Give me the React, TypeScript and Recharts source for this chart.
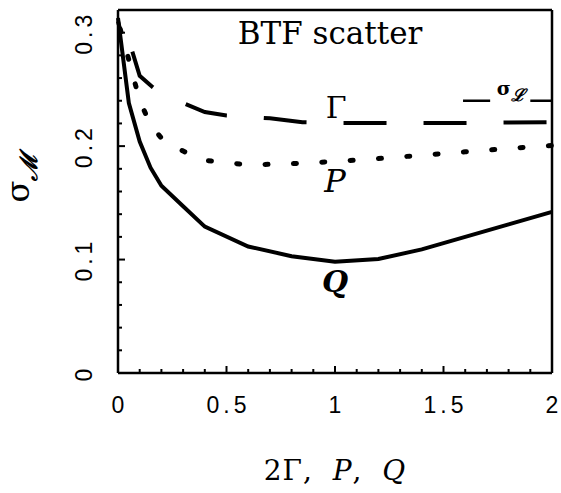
import { LineChart, Line, XAxis, YAxis, ReferenceLine, ReferenceDot } from "recharts";

// Q curve (solid)
const qX = [0, 0.05, 0.1, 0.15, 0.2, 0.3, 0.4, 0.6, 0.8, 1.0, 1.2, 1.4, 1.6, 1.8, 2.0];
const qY = [0.313, 0.238, 0.204, 0.181, 0.165, 0.147, 0.129, 0.1115, 0.103, 0.098, 0.1005, 0.109, 0.12, 0.131, 0.142];

// P curve (dotted)
const pX = [0, 0.05, 0.1, 0.15, 0.2, 0.3, 0.4, 0.6, 0.8, 1.0, 1.2, 1.4, 1.6, 1.8, 2.0];
const pY = [0.31, 0.276, 0.24, 0.219, 0.207, 0.1956, 0.1875, 0.1835, 0.1845, 0.1865, 0.189, 0.192, 0.195, 0.198, 0.2005];

// Gamma curve (long dashes)
const gX = [0, 0.045, 0.065, 0.1, 0.16, 0.2, 0.3, 0.4, 0.5, 0.7, 0.85, 1.0, 1.5, 2.0];
const gY = [0.31, 0.277, 0.284, 0.262, 0.252, 0.246, 0.238, 0.23, 0.227, 0.2245, 0.221, 0.2205, 0.2203, 0.2212];

// sigma_L level, drawn as two short pieces at the right edge
const sigmaL = 0.24;
const sigmaLPieces = [
  [1.59, 1.715],
  [1.9, 2.0],
];

const xTicks = [0, 0.1, 0.2, 0.3, 0.4, 0.5, 0.6, 0.7, 0.8, 0.9, 1, 1.1, 1.2, 1.3, 1.4, 1.5, 1.6, 1.7, 1.8, 1.9, 2];
const yTicks = [0, 0.02, 0.04, 0.06, 0.08, 0.1, 0.12, 0.14, 0.16, 0.18, 0.2, 0.22, 0.24, 0.26, 0.28, 0.3];

const toPoints = (xs: number[], ys: number[]) => xs.map((x, i) => ({ x, y: ys[i] }));
const qData = toPoints(qX, qY);
const pData = toPoints(pX, pY);
const gData = toPoints(gX, gY);

const onStep = (v: number, step: number) => Math.abs(v / step - Math.round(v / step)) < 1e-6;

const TICK_FONT = "'Liberation Sans', Arial, sans-serif";
const SERIF = "'DejaVu Serif', serif";
const MAJOR = 7;
const MINOR = 4;

function BottomTick(props: any) {
  const { x, y, payload } = props;
  const major = onStep(payload.value, 0.5);
  return (
    <g>
      <line x1={x} x2={x} y1={y} y2={y - (major ? MAJOR : MINOR)} stroke="#000" strokeWidth={2} />
      {major && (
        <text x={x + 2} y={y + 40} textAnchor="middle" fontFamily={TICK_FONT} fontSize={23} letterSpacing={4} fill="#000">
          {String(payload.value)}
        </text>
      )}
    </g>
  );
}

function TopTick(props: any) {
  const { x, y, payload } = props;
  const major = onStep(payload.value, 0.5);
  return <line x1={x} x2={x} y1={y} y2={y + (major ? MAJOR : MINOR)} stroke="#000" strokeWidth={2} />;
}

function LeftTick(props: any) {
  const { x, y, payload } = props;
  const major = onStep(payload.value, 0.1);
  const lx = x - 28;
  return (
    <g>
      <line x1={x} x2={x + (major ? MAJOR : MINOR)} y1={y} y2={y} stroke="#000" strokeWidth={2} />
      {major && (
        <text
          x={lx}
          y={y + 2}
          transform={`rotate(-90 ${lx} ${y})`}
          textAnchor="middle"
          fontFamily={TICK_FONT}
          fontSize={23}
          letterSpacing={4}
          fill="#000"
        >
          {String(payload.value)}
        </text>
      )}
    </g>
  );
}

function RightTick(props: any) {
  const { x, y, payload } = props;
  const major = onStep(payload.value, 0.1);
  return <line x1={x} x2={x - (major ? MAJOR : MINOR)} y1={y} y2={y} stroke="#000" strokeWidth={2} />;
}

function XTitle(props: any) {
  const { x, width, y } = props.viewBox;
  return (
    <text
      x={x + width / 2}
      y={y + 107}
      textAnchor="middle"
      fontFamily={SERIF}
      fontSize={28}
      letterSpacing={1}
      wordSpacing={10}
      fill="#000"
    >
      2Γ, <tspan fontStyle="italic">P</tspan>, <tspan fontStyle="italic">Q</tspan>
    </text>
  );
}

function YTitle(props: any) {
  const { y, height } = props.viewBox;
  const cx = 29;
  const cy = y + height / 2 - 14;
  return (
    <text x={cx} y={cy} transform={`rotate(-90 ${cx} ${cy})`} textAnchor="middle" fontFamily={SERIF} fill="#000">
      <tspan fontSize={32}>σ</tspan>
      <tspan fontSize={24} dy={8} fontStyle="italic" fontWeight="bold">ℳ</tspan>
    </text>
  );
}

// text placed at a data position
const note = (content: React.ReactNode, size: number, anchor: string = "middle", extra: any = {}) =>
  (p: any) => (
    <text x={p.cx} y={p.cy} textAnchor={anchor} fontFamily={SERIF} fontSize={size} fill="#000" {...extra}>
      {content}
    </text>
  );

export default function App() {
  return (
    <div style={{ position: "absolute", left: 0, top: 0, width: 561, height: 493, background: "#fff" }}>
      <LineChart width={561} height={493} margin={{ top: 0, right: 0, bottom: 0, left: 0 }}>
        <XAxis
          dataKey="x"
          type="number"
          domain={[0, 2]}
          ticks={xTicks}
          interval={0}
          height={120}
          tickSize={0}
          tickMargin={0}
          tick={<BottomTick />}
          axisLine={{ stroke: "#000", strokeWidth: 2.5 }}
          tickLine={false}
          label={{ content: <XTitle /> }}
        />
        <XAxis
          xAxisId="top"
          orientation="top"
          dataKey="x"
          type="number"
          domain={[0, 2]}
          ticks={xTicks}
          interval={0}
          height={10}
          tickSize={0}
          tickMargin={0}
          tick={<TopTick />}
          axisLine={{ stroke: "#000", strokeWidth: 2.5 }}
          tickLine={false}
        />
        <YAxis
          type="number"
          domain={[0, 0.32]}
          ticks={yTicks}
          interval={0}
          width={118}
          tickSize={0}
          tickMargin={0}
          tick={<LeftTick />}
          axisLine={{ stroke: "#000", strokeWidth: 2.5 }}
          tickLine={false}
          label={{ content: <YTitle /> }}
        />
        <YAxis
          yAxisId="right"
          orientation="right"
          type="number"
          domain={[0, 0.32]}
          ticks={yTicks}
          interval={0}
          width={9}
          tickSize={0}
          tickMargin={0}
          tick={<RightTick />}
          axisLine={{ stroke: "#000", strokeWidth: 2.5 }}
          tickLine={false}
        />

        <Line
          data={qData}
          dataKey="y"
          type="linear"
          stroke="#000"
          strokeWidth={4}
          dot={false}
          activeDot={false}
          isAnimationActive={false}
        />
        <Line
          data={pData}
          dataKey="y"
          type="linear"
          stroke="#000"
          strokeWidth={5}
          strokeDasharray="3 25.4"
          strokeDashoffset={20.4}
          strokeLinecap="round"
          dot={false}
          activeDot={false}
          isAnimationActive={false}
        />
        <Line
          data={gData}
          dataKey="y"
          type="linear"
          stroke="#000"
          strokeWidth={4}
          strokeDasharray="43 37"
          strokeDashoffset={31.5}
          dot={false}
          activeDot={false}
          isAnimationActive={false}
        />

        {sigmaLPieces.map(([a, b], i) => (
          <ReferenceLine
            key={i}
            segment={[
              { x: a, y: sigmaL },
              { x: b, y: sigmaL },
            ]}
            stroke="#000"
            strokeWidth={2.5}
          />
        ))}

        <ReferenceDot x={0.977} y={0.29} r={0} shape={note("BTF scatter", 31)} />
        <ReferenceDot x={1.005} y={0.2248} r={0} shape={note("Γ", 30)} />
        <ReferenceDot x={1.0} y={0.16} r={0} shape={note("P", 32, "middle", { fontStyle: "italic" })} />
        <ReferenceDot x={1.0} y={0.0717} r={0} shape={note("Q", 30, "middle", { fontStyle: "italic", fontWeight: "bold" })} />
        <ReferenceDot
          x={1.745}
          y={0.245}
          r={0}
          shape={note(
            <>
              <tspan fontWeight="bold" fontSize={19}>σ</tspan>
              <tspan fontStyle="italic" fontWeight="bold" fontSize={17} dy={6}>ℒ</tspan>
            </>,
            19,
            "start"
          )}
        />
      </LineChart>
    </div>
  );
}
